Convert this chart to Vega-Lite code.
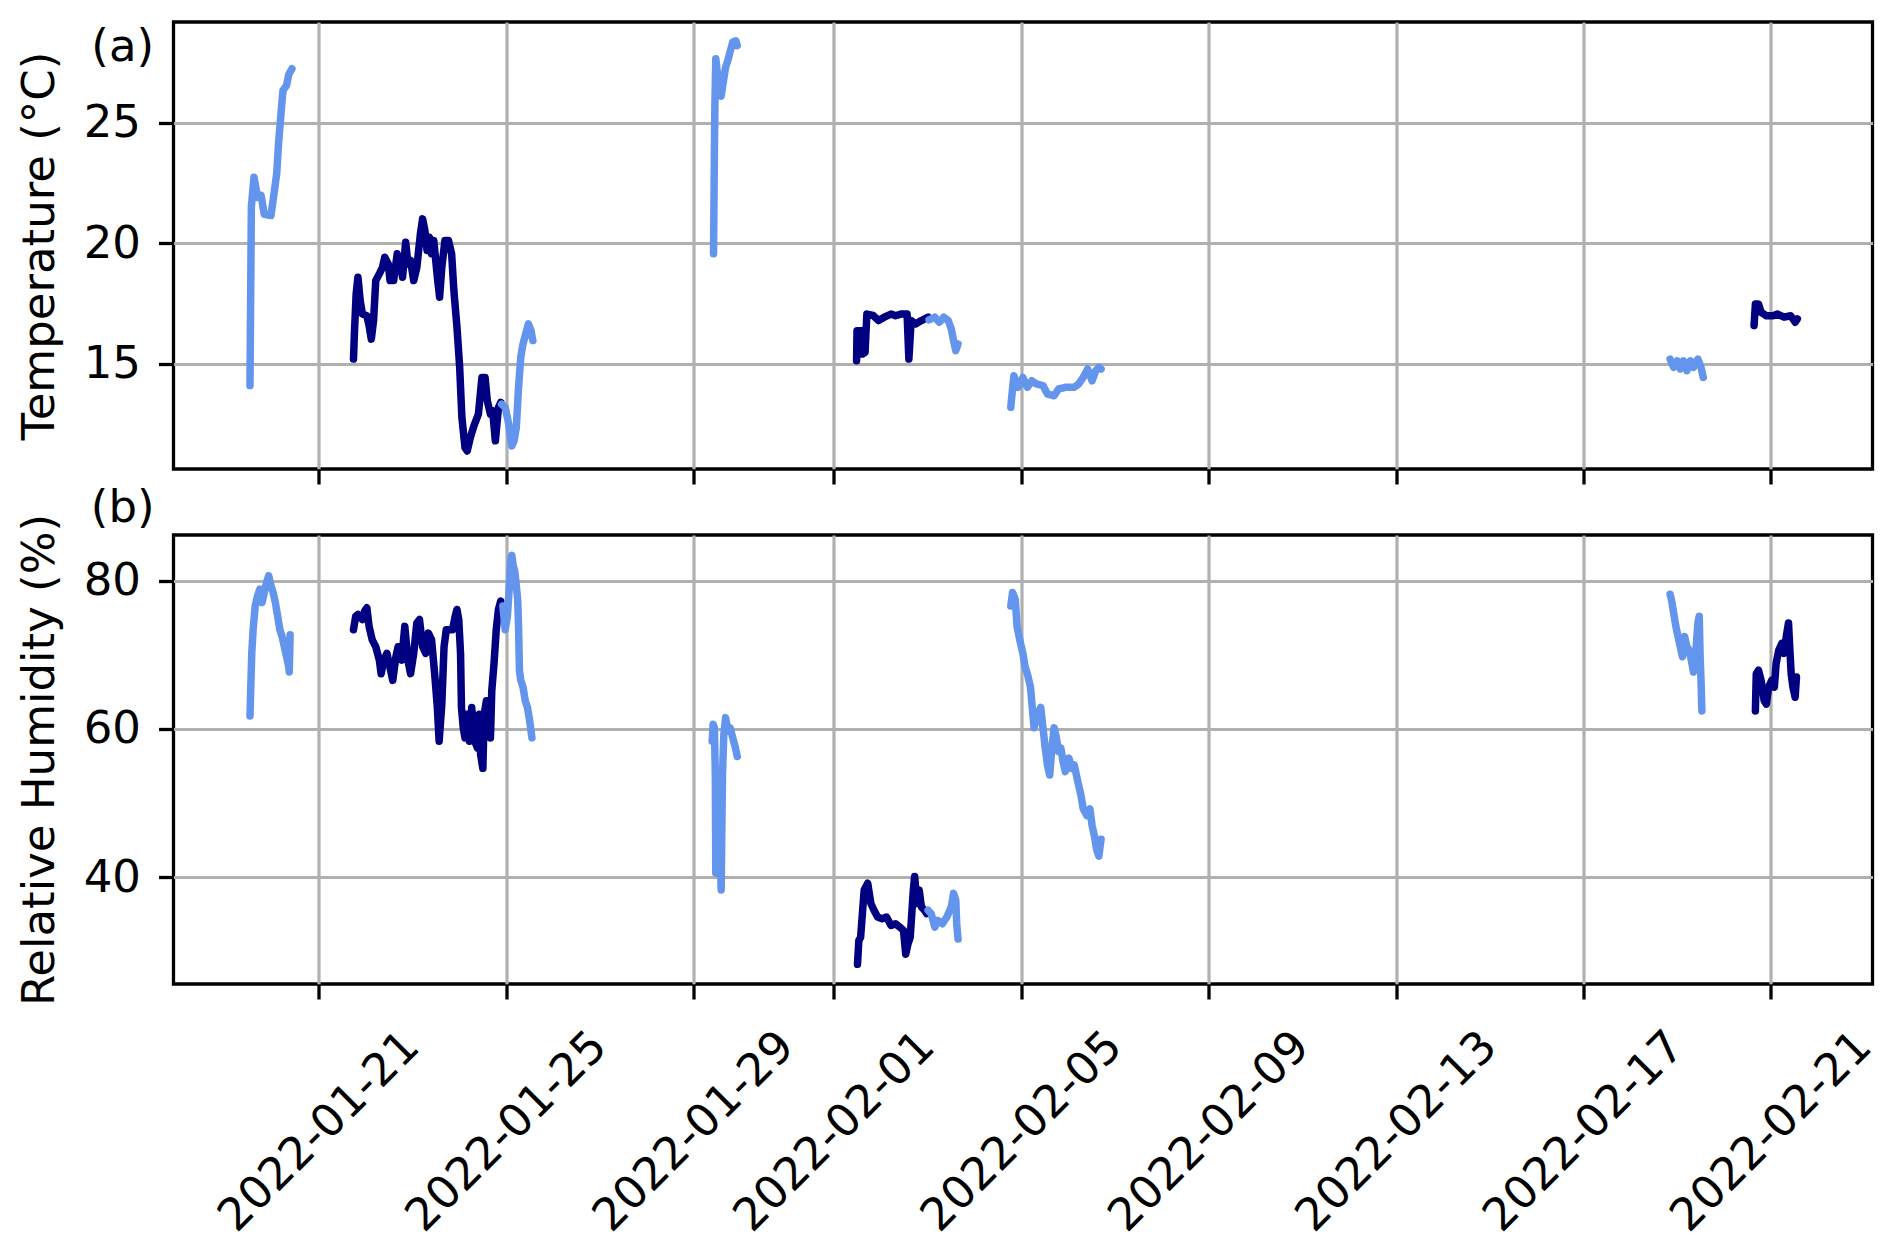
{
  "$schema": "https://vega.github.io/schema/vega-lite/v6.json",
  "padding": {"left": 15.5, "top": 20, "right": 5, "bottom": 5},
  "background": "white",
  "spacing": 66,
  "bounds": "flush",
  "config": {
    "font": "DejaVu Sans",
    "view": {"stroke": "black", "strokeWidth": 3.3},
    "axis": {
      "grid": true, "gridColor": "#b0b0b0", "gridWidth": 3.2, "gridOpacity": 1,
      "domain": false, "tickColor": "black", "tickWidth": 3.3, "tickSize": 15,
      "labelFont": "DejaVu Sans", "labelFontSize": 45, "labelColor": "black", "labelLimit": 0,
      "titleFont": "DejaVu Sans", "titleFontSize": 45, "titleFontWeight": "normal", "titleColor": "black"
    }
  },
  "datasets": {
    "temperature": [
      {"time":"2022-01-19T12:48:00Z","value":14.09,"segment":"T1","logger":"A"},
      {"time":"2022-01-19T13:30:00Z","value":21.5,"segment":"T1","logger":"A"},
      {"time":"2022-01-19T14:51:00Z","value":22.74,"segment":"T1","logger":"A"},
      {"time":"2022-01-19T16:41:00Z","value":21.9,"segment":"T1","logger":"A"},
      {"time":"2022-01-19T18:31:00Z","value":21.98,"segment":"T1","logger":"A"},
      {"time":"2022-01-19T20:07:00Z","value":21.2,"segment":"T1","logger":"A"},
      {"time":"2022-01-19T23:33:00Z","value":21.15,"segment":"T1","logger":"A"},
      {"time":"2022-01-20T00:41:00Z","value":21.8,"segment":"T1","logger":"A"},
      {"time":"2022-01-20T02:31:00Z","value":22.9,"segment":"T1","logger":"A"},
      {"time":"2022-01-20T03:26:00Z","value":24.13,"segment":"T1","logger":"A"},
      {"time":"2022-01-20T04:48:00Z","value":25.5,"segment":"T1","logger":"A"},
      {"time":"2022-01-20T05:43:00Z","value":26.34,"segment":"T1","logger":"A"},
      {"time":"2022-01-20T07:32:00Z","value":26.55,"segment":"T1","logger":"A"},
      {"time":"2022-01-20T08:41:00Z","value":27.0,"segment":"T1","logger":"A"},
      {"time":"2022-01-20T10:17:00Z","value":27.24,"segment":"T1","logger":"A"},

      {"time":"2022-01-21T17:50:00Z","value":15.19,"segment":"T2","logger":"B"},
      {"time":"2022-01-21T18:17:00Z","value":16.23,"segment":"T2","logger":"B"},
      {"time":"2022-01-21T19:12:00Z","value":17.9,"segment":"T2","logger":"B"},
      {"time":"2022-01-21T20:07:00Z","value":18.59,"segment":"T2","logger":"B"},
      {"time":"2022-01-21T21:16:00Z","value":17.62,"segment":"T2","logger":"B"},
      {"time":"2022-01-21T22:24:00Z","value":17.06,"segment":"T2","logger":"B"},
      {"time":"2022-01-22T00:41:00Z","value":16.99,"segment":"T2","logger":"B"},
      {"time":"2022-01-22T01:49:00Z","value":16.58,"segment":"T2","logger":"B"},
      {"time":"2022-01-22T02:58:00Z","value":16.02,"segment":"T2","logger":"B"},
      {"time":"2022-01-22T04:07:00Z","value":16.79,"segment":"T2","logger":"B"},
      {"time":"2022-01-22T05:15:00Z","value":18.45,"segment":"T2","logger":"B"},
      {"time":"2022-01-22T07:05:00Z","value":18.73,"segment":"T2","logger":"B"},
      {"time":"2022-01-22T08:41:00Z","value":19.0,"segment":"T2","logger":"B"},
      {"time":"2022-01-22T09:50:00Z","value":19.42,"segment":"T2","logger":"B"},
      {"time":"2022-01-22T11:39:00Z","value":19.14,"segment":"T2","logger":"B"},
      {"time":"2022-01-22T12:34:00Z","value":18.45,"segment":"T2","logger":"B"},
      {"time":"2022-01-22T14:24:00Z","value":18.45,"segment":"T2","logger":"B"},
      {"time":"2022-01-22T16:14:00Z","value":19.56,"segment":"T2","logger":"B"},
      {"time":"2022-01-22T17:50:00Z","value":19.14,"segment":"T2","logger":"B"},
      {"time":"2022-01-22T18:58:00Z","value":18.59,"segment":"T2","logger":"B"},
      {"time":"2022-01-22T20:34:00Z","value":20.04,"segment":"T2","logger":"B"},
      {"time":"2022-01-22T21:43:00Z","value":19.14,"segment":"T2","logger":"B"},
      {"time":"2022-01-22T23:05:00Z","value":19.28,"segment":"T2","logger":"B"},
      {"time":"2022-01-23T00:41:00Z","value":18.45,"segment":"T2","logger":"B"},
      {"time":"2022-01-23T02:17:00Z","value":19.0,"segment":"T2","logger":"B"},
      {"time":"2022-01-23T04:07:00Z","value":20.39,"segment":"T2","logger":"B"},
      {"time":"2022-01-23T05:15:00Z","value":21.01,"segment":"T2","logger":"B"},
      {"time":"2022-01-23T06:24:00Z","value":20.53,"segment":"T2","logger":"B"},
      {"time":"2022-01-23T07:32:00Z","value":19.7,"segment":"T2","logger":"B"},
      {"time":"2022-01-23T08:41:00Z","value":20.25,"segment":"T2","logger":"B"},
      {"time":"2022-01-23T09:50:00Z","value":19.56,"segment":"T2","logger":"B"},
      {"time":"2022-01-23T10:58:00Z","value":20.11,"segment":"T2","logger":"B"},
      {"time":"2022-01-23T12:48:00Z","value":18.59,"segment":"T2","logger":"B"},
      {"time":"2022-01-23T13:57:00Z","value":17.76,"segment":"T2","logger":"B"},
      {"time":"2022-01-23T15:05:00Z","value":19.0,"segment":"T2","logger":"B"},
      {"time":"2022-01-23T16:41:00Z","value":20.11,"segment":"T2","logger":"B"},
      {"time":"2022-01-23T18:31:00Z","value":20.11,"segment":"T2","logger":"B"},
      {"time":"2022-01-23T20:07:00Z","value":19.56,"segment":"T2","logger":"B"},
      {"time":"2022-01-23T21:16:00Z","value":18.03,"segment":"T2","logger":"B"},
      {"time":"2022-01-23T22:51:00Z","value":16.51,"segment":"T2","logger":"B"},
      {"time":"2022-01-24T00:14:00Z","value":14.85,"segment":"T2","logger":"B"},
      {"time":"2022-01-24T01:22:00Z","value":12.77,"segment":"T2","logger":"B"},
      {"time":"2022-01-24T02:58:00Z","value":11.52,"segment":"T2","logger":"B"},
      {"time":"2022-01-24T04:07:00Z","value":11.38,"segment":"T2","logger":"B"},
      {"time":"2022-01-24T05:43:00Z","value":11.94,"segment":"T2","logger":"B"},
      {"time":"2022-01-24T07:32:00Z","value":12.42,"segment":"T2","logger":"B"},
      {"time":"2022-01-24T09:50:00Z","value":12.91,"segment":"T2","logger":"B"},
      {"time":"2022-01-24T11:39:00Z","value":14.43,"segment":"T2","logger":"B"},
      {"time":"2022-01-24T13:15:00Z","value":14.43,"segment":"T2","logger":"B"},
      {"time":"2022-01-24T14:24:00Z","value":13.46,"segment":"T2","logger":"B"},
      {"time":"2022-01-24T16:00:00Z","value":12.91,"segment":"T2","logger":"B"},
      {"time":"2022-01-24T17:08:00Z","value":13.05,"segment":"T2","logger":"B"},
      {"time":"2022-01-24T18:31:00Z","value":11.8,"segment":"T2","logger":"B"},
      {"time":"2022-01-24T20:07:00Z","value":13.19,"segment":"T2","logger":"B"},
      {"time":"2022-01-24T21:16:00Z","value":13.39,"segment":"T2","logger":"B"},

      {"time":"2022-01-24T21:43:00Z","value":13.32,"segment":"T3","logger":"A"},
      {"time":"2022-01-24T23:33:00Z","value":13.19,"segment":"T3","logger":"A"},
      {"time":"2022-01-25T01:22:00Z","value":12.49,"segment":"T3","logger":"A"},
      {"time":"2022-01-25T02:58:00Z","value":11.59,"segment":"T3","logger":"A"},
      {"time":"2022-01-25T04:07:00Z","value":11.8,"segment":"T3","logger":"A"},
      {"time":"2022-01-25T05:15:00Z","value":12.35,"segment":"T3","logger":"A"},
      {"time":"2022-01-25T06:24:00Z","value":14.02,"segment":"T3","logger":"A"},
      {"time":"2022-01-25T07:32:00Z","value":15.26,"segment":"T3","logger":"A"},
      {"time":"2022-01-25T08:41:00Z","value":15.82,"segment":"T3","logger":"A"},
      {"time":"2022-01-25T10:31:00Z","value":16.37,"segment":"T3","logger":"A"},
      {"time":"2022-01-25T11:25:00Z","value":16.65,"segment":"T3","logger":"A"},
      {"time":"2022-01-25T12:48:00Z","value":16.37,"segment":"T3","logger":"A"},
      {"time":"2022-01-25T13:43:00Z","value":15.96,"segment":"T3","logger":"A"},

      {"time":"2022-01-29T10:18:00Z","value":19.56,"segment":"T4","logger":"A"},
      {"time":"2022-01-29T10:32:00Z","value":21.77,"segment":"T4","logger":"A"},
      {"time":"2022-01-29T10:45:00Z","value":23.85,"segment":"T4","logger":"A"},
      {"time":"2022-01-29T10:59:00Z","value":25.65,"segment":"T4","logger":"A"},
      {"time":"2022-01-29T11:27:00Z","value":27.66,"segment":"T4","logger":"A"},
      {"time":"2022-01-29T12:22:00Z","value":27.0,"segment":"T4","logger":"A"},
      {"time":"2022-01-29T13:17:00Z","value":26.4,"segment":"T4","logger":"A"},
      {"time":"2022-01-29T14:12:00Z","value":26.1,"segment":"T4","logger":"A"},
      {"time":"2022-01-29T15:07:00Z","value":26.6,"segment":"T4","logger":"A"},
      {"time":"2022-01-29T16:29:00Z","value":27.31,"segment":"T4","logger":"A"},
      {"time":"2022-01-29T17:38:00Z","value":27.59,"segment":"T4","logger":"A"},
      {"time":"2022-01-29T18:46:00Z","value":27.94,"segment":"T4","logger":"A"},
      {"time":"2022-01-29T20:09:00Z","value":28.35,"segment":"T4","logger":"A"},
      {"time":"2022-01-29T21:45:00Z","value":28.4,"segment":"T4","logger":"A"},
      {"time":"2022-01-29T22:27:00Z","value":28.2,"segment":"T4","logger":"A"},

      {"time":"2022-02-01T11:35:00Z","value":15.12,"segment":"T5","logger":"B"},
      {"time":"2022-02-01T11:49:00Z","value":16.37,"segment":"T5","logger":"B"},
      {"time":"2022-02-01T14:07:00Z","value":16.37,"segment":"T5","logger":"B"},
      {"time":"2022-02-01T14:34:00Z","value":15.4,"segment":"T5","logger":"B"},
      {"time":"2022-02-01T15:56:00Z","value":15.47,"segment":"T5","logger":"B"},
      {"time":"2022-02-01T16:51:00Z","value":17.06,"segment":"T5","logger":"B"},
      {"time":"2022-02-01T20:04:00Z","value":17.0,"segment":"T5","logger":"B"},
      {"time":"2022-02-01T22:48:00Z","value":16.79,"segment":"T5","logger":"B"},
      {"time":"2022-02-02T01:46:00Z","value":16.93,"segment":"T5","logger":"B"},
      {"time":"2022-02-02T05:14:00Z","value":17.06,"segment":"T5","logger":"B"},
      {"time":"2022-02-02T07:31:00Z","value":16.99,"segment":"T5","logger":"B"},
      {"time":"2022-02-02T10:15:00Z","value":17.06,"segment":"T5","logger":"B"},
      {"time":"2022-02-02T13:28:00Z","value":17.06,"segment":"T5","logger":"B"},
      {"time":"2022-02-02T14:23:00Z","value":15.19,"segment":"T5","logger":"B"},
      {"time":"2022-02-02T15:32:00Z","value":16.79,"segment":"T5","logger":"B"},
      {"time":"2022-02-02T17:48:00Z","value":16.65,"segment":"T5","logger":"B"},
      {"time":"2022-02-02T20:47:00Z","value":16.79,"segment":"T5","logger":"B"},
      {"time":"2022-02-03T00:14:00Z","value":16.93,"segment":"T5","logger":"B"},

      {"time":"2022-02-03T00:42:00Z","value":16.82,"segment":"T6","logger":"A"},
      {"time":"2022-02-03T03:40:00Z","value":16.93,"segment":"T6","logger":"A"},
      {"time":"2022-02-03T05:57:00Z","value":16.72,"segment":"T6","logger":"A"},
      {"time":"2022-02-03T08:15:00Z","value":16.93,"segment":"T6","logger":"A"},
      {"time":"2022-02-03T10:32:00Z","value":16.79,"segment":"T6","logger":"A"},
      {"time":"2022-02-03T12:08:00Z","value":16.44,"segment":"T6","logger":"A"},
      {"time":"2022-02-03T13:16:00Z","value":15.96,"segment":"T6","logger":"A"},
      {"time":"2022-02-03T14:25:00Z","value":15.54,"segment":"T6","logger":"A"},
      {"time":"2022-02-03T15:34:00Z","value":15.82,"segment":"T6","logger":"A"},

      {"time":"2022-02-04T18:36:00Z","value":13.19,"segment":"T7","logger":"A"},
      {"time":"2022-02-04T19:03:00Z","value":13.6,"segment":"T7","logger":"A"},
      {"time":"2022-02-04T20:12:00Z","value":14.5,"segment":"T7","logger":"A"},
      {"time":"2022-02-04T22:29:00Z","value":14.02,"segment":"T7","logger":"A"},
      {"time":"2022-02-05T00:47:00Z","value":14.43,"segment":"T7","logger":"A"},
      {"time":"2022-02-05T03:04:00Z","value":14.02,"segment":"T7","logger":"A"},
      {"time":"2022-02-05T05:21:00Z","value":14.29,"segment":"T7","logger":"A"},
      {"time":"2022-02-05T07:39:00Z","value":14.16,"segment":"T7","logger":"A"},
      {"time":"2022-02-05T11:05:00Z","value":14.09,"segment":"T7","logger":"A"},
      {"time":"2022-02-05T13:22:00Z","value":13.74,"segment":"T7","logger":"A"},
      {"time":"2022-02-05T16:48:00Z","value":13.67,"segment":"T7","logger":"A"},
      {"time":"2022-02-05T19:06:00Z","value":13.95,"segment":"T7","logger":"A"},
      {"time":"2022-02-05T22:32:00Z","value":14.02,"segment":"T7","logger":"A"},
      {"time":"2022-02-06T03:07:00Z","value":14.02,"segment":"T7","logger":"A"},
      {"time":"2022-02-06T05:24:00Z","value":14.16,"segment":"T7","logger":"A"},
      {"time":"2022-02-06T07:42:00Z","value":14.43,"segment":"T7","logger":"A"},
      {"time":"2022-02-06T09:59:00Z","value":14.78,"segment":"T7","logger":"A"},
      {"time":"2022-02-06T12:16:00Z","value":14.29,"segment":"T7","logger":"A"},
      {"time":"2022-02-06T14:06:00Z","value":14.71,"segment":"T7","logger":"A"},
      {"time":"2022-02-06T15:42:00Z","value":14.85,"segment":"T7","logger":"A"},
      {"time":"2022-02-06T16:51:00Z","value":14.78,"segment":"T7","logger":"A"},

      {"time":"2022-02-18T20:23:00Z","value":15.19,"segment":"T8","logger":"A"},
      {"time":"2022-02-18T22:12:00Z","value":14.85,"segment":"T8","logger":"A"},
      {"time":"2022-02-19T00:00:00Z","value":15.12,"segment":"T8","logger":"A"},
      {"time":"2022-02-19T01:35:00Z","value":14.78,"segment":"T8","logger":"A"},
      {"time":"2022-02-19T03:10:00Z","value":15.12,"segment":"T8","logger":"A"},
      {"time":"2022-02-19T04:59:00Z","value":14.71,"segment":"T8","logger":"A"},
      {"time":"2022-02-19T06:47:00Z","value":15.12,"segment":"T8","logger":"A"},
      {"time":"2022-02-19T08:22:00Z","value":14.85,"segment":"T8","logger":"A"},
      {"time":"2022-02-19T10:38:00Z","value":15.19,"segment":"T8","logger":"A"},
      {"time":"2022-02-19T12:13:00Z","value":14.85,"segment":"T8","logger":"A"},
      {"time":"2022-02-19T13:22:00Z","value":14.43,"segment":"T8","logger":"A"},

      {"time":"2022-02-20T15:24:00Z","value":16.58,"segment":"T9","logger":"B"},
      {"time":"2022-02-20T16:05:00Z","value":17.48,"segment":"T9","logger":"B"},
      {"time":"2022-02-20T17:40:00Z","value":17.48,"segment":"T9","logger":"B"},
      {"time":"2022-02-20T19:01:00Z","value":17.13,"segment":"T9","logger":"B"},
      {"time":"2022-02-20T21:44:00Z","value":16.99,"segment":"T9","logger":"B"},
      {"time":"2022-02-21T01:08:00Z","value":16.99,"segment":"T9","logger":"B"},
      {"time":"2022-02-21T03:24:00Z","value":17.06,"segment":"T9","logger":"B"},
      {"time":"2022-02-21T06:48:00Z","value":16.93,"segment":"T9","logger":"B"},
      {"time":"2022-02-21T10:12:00Z","value":16.99,"segment":"T9","logger":"B"},
      {"time":"2022-02-21T12:27:00Z","value":16.72,"segment":"T9","logger":"B"},
      {"time":"2022-02-21T13:35:00Z","value":16.86,"segment":"T9","logger":"B"}
    ],
    "humidity": [
      {"time":"2022-01-19T12:48:00Z","value":61.76,"segment":"H1","logger":"A"},
      {"time":"2022-01-19T13:15:00Z","value":66.0,"segment":"H1","logger":"A"},
      {"time":"2022-01-19T13:43:00Z","value":70.2,"segment":"H1","logger":"A"},
      {"time":"2022-01-19T14:24:00Z","value":73.39,"segment":"H1","logger":"A"},
      {"time":"2022-01-19T15:27:00Z","value":76.58,"segment":"H1","logger":"A"},
      {"time":"2022-01-19T16:41:00Z","value":77.95,"segment":"H1","logger":"A"},
      {"time":"2022-01-19T17:50:00Z","value":78.86,"segment":"H1","logger":"A"},
      {"time":"2022-01-19T18:58:00Z","value":77.04,"segment":"H1","logger":"A"},
      {"time":"2022-01-19T20:07:00Z","value":78.4,"segment":"H1","logger":"A"},
      {"time":"2022-01-19T21:16:00Z","value":79.77,"segment":"H1","logger":"A"},
      {"time":"2022-01-19T22:24:00Z","value":80.68,"segment":"H1","logger":"A"},
      {"time":"2022-01-19T23:33:00Z","value":79.32,"segment":"H1","logger":"A"},
      {"time":"2022-01-20T00:41:00Z","value":78.4,"segment":"H1","logger":"A"},
      {"time":"2022-01-20T01:49:00Z","value":77.04,"segment":"H1","logger":"A"},
      {"time":"2022-01-20T02:58:00Z","value":75.21,"segment":"H1","logger":"A"},
      {"time":"2022-01-20T04:07:00Z","value":73.39,"segment":"H1","logger":"A"},
      {"time":"2022-01-20T05:15:00Z","value":72.48,"segment":"H1","logger":"A"},
      {"time":"2022-01-20T06:24:00Z","value":71.1,"segment":"H1","logger":"A"},
      {"time":"2022-01-20T07:32:00Z","value":69.74,"segment":"H1","logger":"A"},
      {"time":"2022-01-20T08:41:00Z","value":68.37,"segment":"H1","logger":"A"},
      {"time":"2022-01-20T08:55:00Z","value":67.69,"segment":"H1","logger":"A"},
      {"time":"2022-01-20T09:22:00Z","value":72.7,"segment":"H1","logger":"A"},

      {"time":"2022-01-21T17:50:00Z","value":73.39,"segment":"H2","logger":"B"},
      {"time":"2022-01-21T18:58:00Z","value":75.21,"segment":"H2","logger":"B"},
      {"time":"2022-01-21T20:07:00Z","value":75.44,"segment":"H2","logger":"B"},
      {"time":"2022-01-21T22:24:00Z","value":74.76,"segment":"H2","logger":"B"},
      {"time":"2022-01-21T23:33:00Z","value":75.9,"segment":"H2","logger":"B"},
      {"time":"2022-01-22T00:41:00Z","value":76.35,"segment":"H2","logger":"B"},
      {"time":"2022-01-22T01:49:00Z","value":73.84,"segment":"H2","logger":"B"},
      {"time":"2022-01-22T03:26:00Z","value":72.02,"segment":"H2","logger":"B"},
      {"time":"2022-01-22T05:15:00Z","value":71.1,"segment":"H2","logger":"B"},
      {"time":"2022-01-22T07:05:00Z","value":69.28,"segment":"H2","logger":"B"},
      {"time":"2022-01-22T08:00:00Z","value":67.46,"segment":"H2","logger":"B"},
      {"time":"2022-01-22T09:22:00Z","value":69.28,"segment":"H2","logger":"B"},
      {"time":"2022-01-22T10:58:00Z","value":70.2,"segment":"H2","logger":"B"},
      {"time":"2022-01-22T12:07:00Z","value":68.83,"segment":"H2","logger":"B"},
      {"time":"2022-01-22T13:57:00Z","value":66.55,"segment":"H2","logger":"B"},
      {"time":"2022-01-22T15:33:00Z","value":69.74,"segment":"H2","logger":"B"},
      {"time":"2022-01-22T16:41:00Z","value":71.1,"segment":"H2","logger":"B"},
      {"time":"2022-01-22T18:31:00Z","value":69.28,"segment":"H2","logger":"B"},
      {"time":"2022-01-22T20:07:00Z","value":73.84,"segment":"H2","logger":"B"},
      {"time":"2022-01-22T21:43:00Z","value":69.28,"segment":"H2","logger":"B"},
      {"time":"2022-01-22T23:05:00Z","value":67.46,"segment":"H2","logger":"B"},
      {"time":"2022-01-23T00:41:00Z","value":70.2,"segment":"H2","logger":"B"},
      {"time":"2022-01-23T02:17:00Z","value":74.3,"segment":"H2","logger":"B"},
      {"time":"2022-01-23T03:39:00Z","value":74.76,"segment":"H2","logger":"B"},
      {"time":"2022-01-23T05:15:00Z","value":71.1,"segment":"H2","logger":"B"},
      {"time":"2022-01-23T06:51:00Z","value":70.2,"segment":"H2","logger":"B"},
      {"time":"2022-01-23T08:14:00Z","value":72.93,"segment":"H2","logger":"B"},
      {"time":"2022-01-23T09:50:00Z","value":72.02,"segment":"H2","logger":"B"},
      {"time":"2022-01-23T11:25:00Z","value":67.46,"segment":"H2","logger":"B"},
      {"time":"2022-01-23T12:48:00Z","value":62.9,"segment":"H2","logger":"B"},
      {"time":"2022-01-23T13:43:00Z","value":58.34,"segment":"H2","logger":"B"},
      {"time":"2022-01-23T15:05:00Z","value":63.36,"segment":"H2","logger":"B"},
      {"time":"2022-01-23T16:14:00Z","value":71.1,"segment":"H2","logger":"B"},
      {"time":"2022-01-23T17:22:00Z","value":73.39,"segment":"H2","logger":"B"},
      {"time":"2022-01-23T18:58:00Z","value":73.39,"segment":"H2","logger":"B"},
      {"time":"2022-01-23T20:34:00Z","value":73.39,"segment":"H2","logger":"B"},
      {"time":"2022-01-23T21:57:00Z","value":75.21,"segment":"H2","logger":"B"},
      {"time":"2022-01-23T22:51:00Z","value":76.12,"segment":"H2","logger":"B"},
      {"time":"2022-01-23T23:46:00Z","value":74.76,"segment":"H2","logger":"B"},
      {"time":"2022-01-24T00:41:00Z","value":70.2,"segment":"H2","logger":"B"},
      {"time":"2022-01-24T01:09:00Z","value":62.9,"segment":"H2","logger":"B"},
      {"time":"2022-01-24T02:04:00Z","value":60.16,"segment":"H2","logger":"B"},
      {"time":"2022-01-24T02:58:00Z","value":58.8,"segment":"H2","logger":"B"},
      {"time":"2022-01-24T04:07:00Z","value":61.99,"segment":"H2","logger":"B"},
      {"time":"2022-01-24T05:15:00Z","value":58.34,"segment":"H2","logger":"B"},
      {"time":"2022-01-24T06:24:00Z","value":62.9,"segment":"H2","logger":"B"},
      {"time":"2022-01-24T08:00:00Z","value":58.34,"segment":"H2","logger":"B"},
      {"time":"2022-01-24T09:22:00Z","value":57.43,"segment":"H2","logger":"B"},
      {"time":"2022-01-24T10:17:00Z","value":61.99,"segment":"H2","logger":"B"},
      {"time":"2022-01-24T10:58:00Z","value":56.52,"segment":"H2","logger":"B"},
      {"time":"2022-01-24T12:07:00Z","value":54.69,"segment":"H2","logger":"B"},
      {"time":"2022-01-24T12:48:00Z","value":61.99,"segment":"H2","logger":"B"},
      {"time":"2022-01-24T13:57:00Z","value":63.81,"segment":"H2","logger":"B"},
      {"time":"2022-01-24T14:51:00Z","value":60.62,"segment":"H2","logger":"B"},
      {"time":"2022-01-24T16:00:00Z","value":58.8,"segment":"H2","logger":"B"},
      {"time":"2022-01-24T16:41:00Z","value":65.18,"segment":"H2","logger":"B"},
      {"time":"2022-01-24T17:50:00Z","value":68.83,"segment":"H2","logger":"B"},
      {"time":"2022-01-24T18:58:00Z","value":73.39,"segment":"H2","logger":"B"},
      {"time":"2022-01-24T20:07:00Z","value":76.12,"segment":"H2","logger":"B"},
      {"time":"2022-01-24T21:16:00Z","value":77.26,"segment":"H2","logger":"B"},

      {"time":"2022-01-24T22:24:00Z","value":76.58,"segment":"H3","logger":"A"},
      {"time":"2022-01-24T23:33:00Z","value":73.39,"segment":"H3","logger":"A"},
      {"time":"2022-01-25T00:41:00Z","value":75.21,"segment":"H3","logger":"A"},
      {"time":"2022-01-25T01:49:00Z","value":79.77,"segment":"H3","logger":"A"},
      {"time":"2022-01-25T02:31:00Z","value":82.96,"segment":"H3","logger":"A"},
      {"time":"2022-01-25T02:58:00Z","value":83.42,"segment":"H3","logger":"A"},
      {"time":"2022-01-25T03:39:00Z","value":82.05,"segment":"H3","logger":"A"},
      {"time":"2022-01-25T04:34:00Z","value":81.14,"segment":"H3","logger":"A"},
      {"time":"2022-01-25T05:15:00Z","value":79.32,"segment":"H3","logger":"A"},
      {"time":"2022-01-25T05:57:00Z","value":77.49,"segment":"H3","logger":"A"},
      {"time":"2022-01-25T06:24:00Z","value":73.84,"segment":"H3","logger":"A"},
      {"time":"2022-01-25T06:51:00Z","value":67.92,"segment":"H3","logger":"A"},
      {"time":"2022-01-25T07:32:00Z","value":66.55,"segment":"H3","logger":"A"},
      {"time":"2022-01-25T08:41:00Z","value":65.64,"segment":"H3","logger":"A"},
      {"time":"2022-01-25T09:50:00Z","value":63.81,"segment":"H3","logger":"A"},
      {"time":"2022-01-25T10:58:00Z","value":62.9,"segment":"H3","logger":"A"},
      {"time":"2022-01-25T12:07:00Z","value":61.08,"segment":"H3","logger":"A"},
      {"time":"2022-01-25T13:15:00Z","value":58.8,"segment":"H3","logger":"A"},

      {"time":"2022-01-29T09:37:00Z","value":58.34,"segment":"H4","logger":"A"},
      {"time":"2022-01-29T10:05:00Z","value":60.62,"segment":"H4","logger":"A"},
      {"time":"2022-01-29T10:45:00Z","value":60.16,"segment":"H4","logger":"A"},
      {"time":"2022-01-29T11:13:00Z","value":53.78,"segment":"H4","logger":"A"},
      {"time":"2022-01-29T11:27:00Z","value":40.56,"segment":"H4","logger":"A"},
      {"time":"2022-01-29T12:22:00Z","value":49.22,"segment":"H4","logger":"A"},
      {"time":"2022-01-29T13:17:00Z","value":51.04,"segment":"H4","logger":"A"},
      {"time":"2022-01-29T14:12:00Z","value":38.28,"segment":"H4","logger":"A"},
      {"time":"2022-01-29T14:53:00Z","value":53.78,"segment":"H4","logger":"A"},
      {"time":"2022-01-29T15:34:00Z","value":59.25,"segment":"H4","logger":"A"},
      {"time":"2022-01-29T16:29:00Z","value":61.53,"segment":"H4","logger":"A"},
      {"time":"2022-01-29T17:38:00Z","value":59.71,"segment":"H4","logger":"A"},
      {"time":"2022-01-29T18:46:00Z","value":60.16,"segment":"H4","logger":"A"},
      {"time":"2022-01-29T20:09:00Z","value":58.8,"segment":"H4","logger":"A"},
      {"time":"2022-01-29T21:32:00Z","value":57.43,"segment":"H4","logger":"A"},
      {"time":"2022-01-29T22:27:00Z","value":56.29,"segment":"H4","logger":"A"},

      {"time":"2022-02-01T12:03:00Z","value":28.24,"segment":"H5","logger":"B"},
      {"time":"2022-02-01T12:44:00Z","value":31.44,"segment":"H5","logger":"B"},
      {"time":"2022-02-01T13:39:00Z","value":31.89,"segment":"H5","logger":"B"},
      {"time":"2022-02-01T15:29:00Z","value":38.28,"segment":"H5","logger":"B"},
      {"time":"2022-02-01T17:18:00Z","value":39.19,"segment":"H5","logger":"B"},
      {"time":"2022-02-01T18:55:00Z","value":36.45,"segment":"H5","logger":"B"},
      {"time":"2022-02-01T20:31:00Z","value":35.54,"segment":"H5","logger":"B"},
      {"time":"2022-02-01T22:21:00Z","value":34.63,"segment":"H5","logger":"B"},
      {"time":"2022-02-02T00:38:00Z","value":34.4,"segment":"H5","logger":"B"},
      {"time":"2022-02-02T02:56:00Z","value":34.63,"segment":"H5","logger":"B"},
      {"time":"2022-02-02T05:14:00Z","value":33.49,"segment":"H5","logger":"B"},
      {"time":"2022-02-02T07:31:00Z","value":33.72,"segment":"H5","logger":"B"},
      {"time":"2022-02-02T09:48:00Z","value":33.26,"segment":"H5","logger":"B"},
      {"time":"2022-02-02T11:38:00Z","value":32.8,"segment":"H5","logger":"B"},
      {"time":"2022-02-02T12:46:00Z","value":29.61,"segment":"H5","logger":"B"},
      {"time":"2022-02-02T13:55:00Z","value":30.98,"segment":"H5","logger":"B"},
      {"time":"2022-02-02T15:04:00Z","value":31.89,"segment":"H5","logger":"B"},
      {"time":"2022-02-02T16:40:00Z","value":38.28,"segment":"H5","logger":"B"},
      {"time":"2022-02-02T17:21:00Z","value":40.1,"segment":"H5","logger":"B"},
      {"time":"2022-02-02T18:30:00Z","value":36.45,"segment":"H5","logger":"B"},
      {"time":"2022-02-02T19:39:00Z","value":38.28,"segment":"H5","logger":"B"},
      {"time":"2022-02-02T20:47:00Z","value":36.0,"segment":"H5","logger":"B"},
      {"time":"2022-02-02T22:23:00Z","value":35.54,"segment":"H5","logger":"B"},
      {"time":"2022-02-02T23:32:00Z","value":35.08,"segment":"H5","logger":"B"},

      {"time":"2022-02-03T00:14:00Z","value":35.54,"segment":"H6","logger":"A"},
      {"time":"2022-02-03T01:49:00Z","value":35.08,"segment":"H6","logger":"A"},
      {"time":"2022-02-03T03:40:00Z","value":33.26,"segment":"H6","logger":"A"},
      {"time":"2022-02-03T05:15:00Z","value":34.17,"segment":"H6","logger":"A"},
      {"time":"2022-02-03T07:34:00Z","value":33.72,"segment":"H6","logger":"A"},
      {"time":"2022-02-03T09:50:00Z","value":34.63,"segment":"H6","logger":"A"},
      {"time":"2022-02-03T12:08:00Z","value":36.0,"segment":"H6","logger":"A"},
      {"time":"2022-02-03T13:16:00Z","value":37.82,"segment":"H6","logger":"A"},
      {"time":"2022-02-03T14:25:00Z","value":36.91,"segment":"H6","logger":"A"},
      {"time":"2022-02-03T14:53:00Z","value":33.72,"segment":"H6","logger":"A"},
      {"time":"2022-02-03T15:34:00Z","value":31.66,"segment":"H6","logger":"A"},

      {"time":"2022-02-04T18:36:00Z","value":76.58,"segment":"H7","logger":"A"},
      {"time":"2022-02-04T19:31:00Z","value":78.4,"segment":"H7","logger":"A"},
      {"time":"2022-02-04T20:53:00Z","value":77.49,"segment":"H7","logger":"A"},
      {"time":"2022-02-04T21:48:00Z","value":73.84,"segment":"H7","logger":"A"},
      {"time":"2022-02-04T23:11:00Z","value":72.02,"segment":"H7","logger":"A"},
      {"time":"2022-02-05T00:47:00Z","value":70.2,"segment":"H7","logger":"A"},
      {"time":"2022-02-05T01:55:00Z","value":68.37,"segment":"H7","logger":"A"},
      {"time":"2022-02-05T03:04:00Z","value":67.46,"segment":"H7","logger":"A"},
      {"time":"2022-02-05T04:41:00Z","value":65.64,"segment":"H7","logger":"A"},
      {"time":"2022-02-05T05:36:00Z","value":62.9,"segment":"H7","logger":"A"},
      {"time":"2022-02-05T06:30:00Z","value":60.16,"segment":"H7","logger":"A"},
      {"time":"2022-02-05T08:20:00Z","value":61.99,"segment":"H7","logger":"A"},
      {"time":"2022-02-05T09:56:00Z","value":62.9,"segment":"H7","logger":"A"},
      {"time":"2022-02-05T11:05:00Z","value":60.16,"segment":"H7","logger":"A"},
      {"time":"2022-02-05T12:14:00Z","value":57.43,"segment":"H7","logger":"A"},
      {"time":"2022-02-05T13:22:00Z","value":55.15,"segment":"H7","logger":"A"},
      {"time":"2022-02-05T14:31:00Z","value":53.78,"segment":"H7","logger":"A"},
      {"time":"2022-02-05T15:40:00Z","value":57.43,"segment":"H7","logger":"A"},
      {"time":"2022-02-05T16:48:00Z","value":60.16,"segment":"H7","logger":"A"},
      {"time":"2022-02-05T17:57:00Z","value":58.8,"segment":"H7","logger":"A"},
      {"time":"2022-02-05T19:06:00Z","value":56.97,"segment":"H7","logger":"A"},
      {"time":"2022-02-05T20:15:00Z","value":57.43,"segment":"H7","logger":"A"},
      {"time":"2022-02-05T21:23:00Z","value":55.6,"segment":"H7","logger":"A"},
      {"time":"2022-02-05T22:32:00Z","value":54.24,"segment":"H7","logger":"A"},
      {"time":"2022-02-06T00:22:00Z","value":56.06,"segment":"H7","logger":"A"},
      {"time":"2022-02-06T01:58:00Z","value":54.69,"segment":"H7","logger":"A"},
      {"time":"2022-02-06T03:07:00Z","value":55.15,"segment":"H7","logger":"A"},
      {"time":"2022-02-06T04:57:00Z","value":52.87,"segment":"H7","logger":"A"},
      {"time":"2022-02-06T06:33:00Z","value":51.04,"segment":"H7","logger":"A"},
      {"time":"2022-02-06T07:42:00Z","value":49.22,"segment":"H7","logger":"A"},
      {"time":"2022-02-06T09:32:00Z","value":48.31,"segment":"H7","logger":"A"},
      {"time":"2022-02-06T11:08:00Z","value":49.22,"segment":"H7","logger":"A"},
      {"time":"2022-02-06T12:16:00Z","value":46.94,"segment":"H7","logger":"A"},
      {"time":"2022-02-06T13:25:00Z","value":45.57,"segment":"H7","logger":"A"},
      {"time":"2022-02-06T14:34:00Z","value":43.75,"segment":"H7","logger":"A"},
      {"time":"2022-02-06T15:42:00Z","value":42.84,"segment":"H7","logger":"A"},
      {"time":"2022-02-06T16:51:00Z","value":45.12,"segment":"H7","logger":"A"},

      {"time":"2022-02-18T20:23:00Z","value":78.18,"segment":"H8","logger":"A"},
      {"time":"2022-02-18T21:03:00Z","value":77.49,"segment":"H8","logger":"A"},
      {"time":"2022-02-18T22:12:00Z","value":75.67,"segment":"H8","logger":"A"},
      {"time":"2022-02-18T23:20:00Z","value":73.84,"segment":"H8","logger":"A"},
      {"time":"2022-02-19T00:27:00Z","value":72.48,"segment":"H8","logger":"A"},
      {"time":"2022-02-19T01:35:00Z","value":71.1,"segment":"H8","logger":"A"},
      {"time":"2022-02-19T02:43:00Z","value":69.74,"segment":"H8","logger":"A"},
      {"time":"2022-02-19T03:50:00Z","value":72.48,"segment":"H8","logger":"A"},
      {"time":"2022-02-19T04:59:00Z","value":71.1,"segment":"H8","logger":"A"},
      {"time":"2022-02-19T06:07:00Z","value":70.65,"segment":"H8","logger":"A"},
      {"time":"2022-02-19T07:15:00Z","value":69.28,"segment":"H8","logger":"A"},
      {"time":"2022-02-19T08:22:00Z","value":67.69,"segment":"H8","logger":"A"},
      {"time":"2022-02-19T09:30:00Z","value":70.2,"segment":"H8","logger":"A"},
      {"time":"2022-02-19T10:38:00Z","value":74.3,"segment":"H8","logger":"A"},
      {"time":"2022-02-19T11:19:00Z","value":75.21,"segment":"H8","logger":"A"},
      {"time":"2022-02-19T11:47:00Z","value":69.74,"segment":"H8","logger":"A"},
      {"time":"2022-02-19T12:13:00Z","value":66.55,"segment":"H8","logger":"A"},
      {"time":"2022-02-19T12:40:00Z","value":62.44,"segment":"H8","logger":"A"},

      {"time":"2022-02-20T16:05:00Z","value":62.44,"segment":"H9","logger":"B"},
      {"time":"2022-02-20T16:32:00Z","value":67.46,"segment":"H9","logger":"B"},
      {"time":"2022-02-20T17:40:00Z","value":67.92,"segment":"H9","logger":"B"},
      {"time":"2022-02-20T19:01:00Z","value":66.55,"segment":"H9","logger":"B"},
      {"time":"2022-02-20T20:36:00Z","value":63.81,"segment":"H9","logger":"B"},
      {"time":"2022-02-20T21:44:00Z","value":63.36,"segment":"H9","logger":"B"},
      {"time":"2022-02-20T22:52:00Z","value":65.64,"segment":"H9","logger":"B"},
      {"time":"2022-02-21T00:27:00Z","value":66.55,"segment":"H9","logger":"B"},
      {"time":"2022-02-21T01:48:00Z","value":65.64,"segment":"H9","logger":"B"},
      {"time":"2022-02-21T02:43:00Z","value":68.83,"segment":"H9","logger":"B"},
      {"time":"2022-02-21T04:05:00Z","value":70.65,"segment":"H9","logger":"B"},
      {"time":"2022-02-21T05:40:00Z","value":71.56,"segment":"H9","logger":"B"},
      {"time":"2022-02-21T06:48:00Z","value":70.2,"segment":"H9","logger":"B"},
      {"time":"2022-02-21T07:55:00Z","value":72.48,"segment":"H9","logger":"B"},
      {"time":"2022-02-21T09:03:00Z","value":74.3,"segment":"H9","logger":"B"},
      {"time":"2022-02-21T09:45:00Z","value":70.65,"segment":"H9","logger":"B"},
      {"time":"2022-02-21T10:25:00Z","value":67.46,"segment":"H9","logger":"B"},
      {"time":"2022-02-21T11:20:00Z","value":65.64,"segment":"H9","logger":"B"},
      {"time":"2022-02-21T12:27:00Z","value":64.27,"segment":"H9","logger":"B"},
      {"time":"2022-02-21T13:08:00Z","value":67.0,"segment":"H9","logger":"B"}
    ]
  },
  "vconcat": [
    {
      "width": 1699,
      "height": 447,
      "layer": [
        {
          "data": {"name": "temperature"},
          "mark": {"type": "line", "strokeWidth": 7.5, "strokeCap": "round", "strokeJoin": "round"},
          "encoding": {
            "x": {
              "field": "time", "type": "temporal",
              "scale": {"type": "utc", "domain": [
                {"year": 2022, "month": 1, "date": 17, "hours": 21, "minutes": 37, "utc": true},
                {"year": 2022, "month": 2, "date": 23, "hours": 4, "minutes": 5, "utc": true}
              ]},
              "axis": {
                "title": null, "labels": false,
                "values": [
                  {"year": 2022, "month": 1, "date": 21, "utc": true},
                  {"year": 2022, "month": 1, "date": 25, "utc": true},
                  {"year": 2022, "month": 1, "date": 29, "utc": true},
                  {"year": 2022, "month": 2, "date": 1, "utc": true},
                  {"year": 2022, "month": 2, "date": 5, "utc": true},
                  {"year": 2022, "month": 2, "date": 9, "utc": true},
                  {"year": 2022, "month": 2, "date": 13, "utc": true},
                  {"year": 2022, "month": 2, "date": 17, "utc": true},
                  {"year": 2022, "month": 2, "date": 21, "utc": true}
                ]
              }
            },
            "y": {
              "field": "value", "type": "quantitative",
              "scale": {"domain": [10.63, 29.18], "nice": false, "zero": false},
              "axis": {"title": "Temperature (°C)", "values": [15, 20, 25], "labelPadding": 18, "titlePadding": 21}
            },
            "color": {
              "field": "logger", "type": "nominal",
              "scale": {"domain": ["A", "B"], "range": ["#6495ED", "#000080"]},
              "legend": null
            },
            "detail": {"field": "segment", "type": "nominal"}
          }
        },
        {
          "data": {"values": [{}]},
          "mark": {"type": "text", "text": "(a)", "font": "DejaVu Sans", "fontSize": 45, "align": "center", "baseline": "middle", "color": "black", "clip": false},
          "encoding": {
            "x": {"datum": {"year": 2022, "month": 1, "date": 16, "hours": 19, "minutes": 35, "utc": true}, "type": "temporal"},
            "y": {"datum": 28.15, "type": "quantitative"}
          }
        }
      ]
    },
    {
      "width": 1699,
      "height": 449,
      "layer": [
        {
          "data": {"name": "humidity"},
          "mark": {"type": "line", "strokeWidth": 7.5, "strokeCap": "round", "strokeJoin": "round"},
          "encoding": {
            "x": {
              "field": "time", "type": "temporal",
              "scale": {"type": "utc", "domain": [
                {"year": 2022, "month": 1, "date": 17, "hours": 21, "minutes": 37, "utc": true},
                {"year": 2022, "month": 2, "date": 23, "hours": 4, "minutes": 5, "utc": true}
              ]},
              "axis": {
                "title": null, "format": "%Y-%m-%d",
                "labelAngle": -45, "labelAlign": "center", "labelBaseline": "middle", "labelPadding": 132,
                "labelOverlap": false, "labelFlush": false,
                "values": [
                  {"year": 2022, "month": 1, "date": 21, "utc": true},
                  {"year": 2022, "month": 1, "date": 25, "utc": true},
                  {"year": 2022, "month": 1, "date": 29, "utc": true},
                  {"year": 2022, "month": 2, "date": 1, "utc": true},
                  {"year": 2022, "month": 2, "date": 5, "utc": true},
                  {"year": 2022, "month": 2, "date": 9, "utc": true},
                  {"year": 2022, "month": 2, "date": 13, "utc": true},
                  {"year": 2022, "month": 2, "date": 17, "utc": true},
                  {"year": 2022, "month": 2, "date": 21, "utc": true}
                ]
              }
            },
            "y": {
              "field": "value", "type": "quantitative",
              "scale": {"domain": [25.59, 86.17], "nice": false, "zero": false},
              "axis": {"title": "Relative Humidity (%)", "values": [40, 60, 80], "labelPadding": 18, "titlePadding": 21}
            },
            "color": {
              "field": "logger", "type": "nominal",
              "scale": {"domain": ["A", "B"], "range": ["#6495ED", "#000080"]},
              "legend": null
            },
            "detail": {"field": "segment", "type": "nominal"}
          }
        },
        {
          "data": {"values": [{}]},
          "mark": {"type": "text", "text": "(b)", "font": "DejaVu Sans", "fontSize": 45, "align": "center", "baseline": "middle", "color": "black", "clip": false},
          "encoding": {
            "x": {"datum": {"year": 2022, "month": 1, "date": 16, "hours": 19, "minutes": 35, "utc": true}, "type": "temporal"},
            "y": {"datum": 89.84, "type": "quantitative"}
          }
        }
      ]
    }
  ]
}
